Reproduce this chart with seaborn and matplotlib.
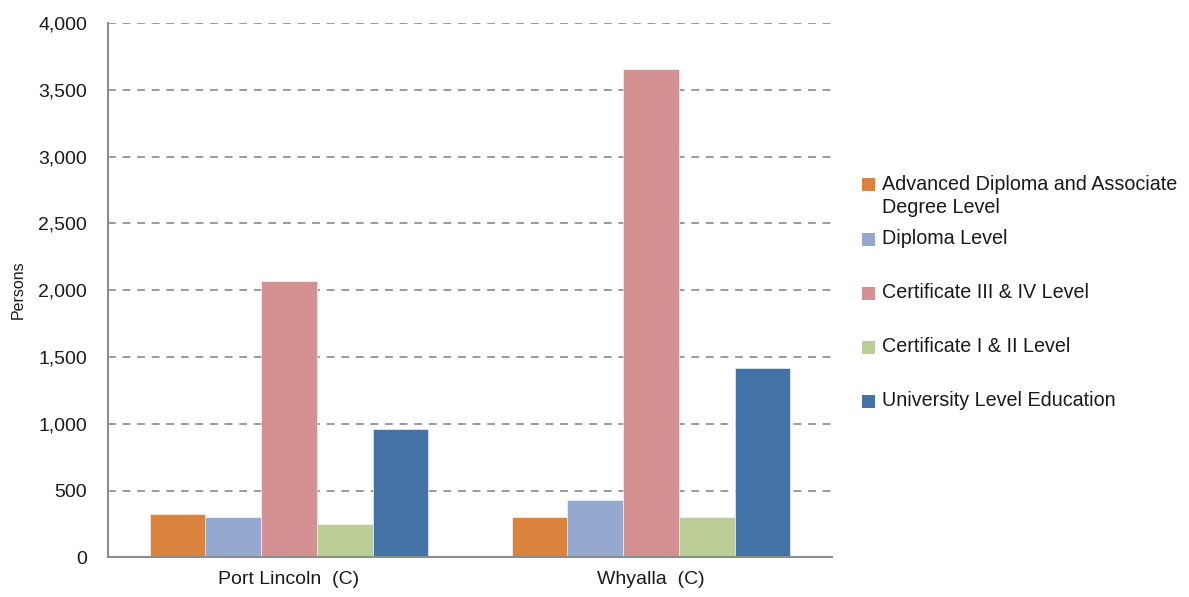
import matplotlib
matplotlib.use("Agg")
import matplotlib.pyplot as plt
from matplotlib.patches import Rectangle
from matplotlib.ticker import FuncFormatter, MultipleLocator
import seaborn as sns
import pandas as pd

regions = ["Port Lincoln  (C)", "Whyalla  (C)"]
levels = [
    "Advanced Diploma and Associate Degree Level",
    "Diploma Level",
    "Certificate III & IV Level",
    "Certificate I & II Level",
    "University Level Education",
]
legend_lines = [
    ["Advanced Diploma and Associate", "Degree Level"],
    ["Diploma Level"],
    ["Certificate III & IV Level"],
    ["Certificate I & II Level"],
    ["University Level Education"],
]
port_lincoln = [323, 303, 2072, 248, 959]
whyalla = [303, 431, 3658, 303, 1417]
colors = ["#DA833F", "#95A9D0", "#D39191", "#BACD96", "#4472A6"]

df = pd.DataFrame({
    "Region": [regions[0]] * len(levels) + [regions[1]] * len(levels),
    "Level": levels * 2,
    "Persons": port_lincoln + whyalla,
})

sns.set_theme(style="white")
plt.rcParams["font.family"] = ["Liberation Sans", "DejaVu Sans"]

fig = plt.figure(figsize=(11.89, 5.97), dpi=100)
ax = fig.add_axes([0.0908, 0.0665, 0.6089, 0.895])

sns.barplot(data=df, x="Region", y="Persons", hue="Level", order=regions,
            hue_order=levels, palette=colors, width=0.77, gap=0,
            saturation=1, ax=ax, legend=False, edgecolor="white", linewidth=0.4)

ax.set_ylim(0, 4000)
ax.set_xlim(-0.5, 1.5)
ax.yaxis.set_major_locator(MultipleLocator(500))
ax.yaxis.set_major_formatter(FuncFormatter(lambda v, p: f"{int(v):,}"))
ax.yaxis.grid(True, color="#9a9a9a", linestyle=(0, (4, 3.5)), linewidth=1.4)
ax.set_axisbelow(True)

for side in ["top", "right"]:
    ax.spines[side].set_visible(False)
for side in ["left", "bottom"]:
    ax.spines[side].set_color("#8c8c8c")
    ax.spines[side].set_linewidth(1.5)

ax.tick_params(axis="y", direction="in", length=7, width=1, color="#8c8c8c",
               labelsize=14, labelcolor="#1a1a1a", pad=15)
ax.tick_params(axis="x", length=0, labelsize=14, labelcolor="#1a1a1a", pad=10)
ax.set_xlabel("")
ax.set_ylabel("Persons", fontsize=11.5, color="#1a1a1a", labelpad=9)

# legend at the right of the plot
W, H = 1189, 597
y0 = 185
step = 54
for i, (lines, c) in enumerate(zip(legend_lines, colors)):
    yc = y0 + i * step
    fig.patches.append(Rectangle((862 / W, 1 - (yc + 6.5) / H), 13 / W, 13 / H,
                                 transform=fig.transFigure, facecolor=c,
                                 edgecolor="none"))
    for j, line in enumerate(lines):
        fig.text(882 / W, 1 - (yc + j * 22) / H, line, fontsize=14.2,
                 color="#1a1a1a", va="center", ha="left")

fig.savefig("out.png", dpi=100)
